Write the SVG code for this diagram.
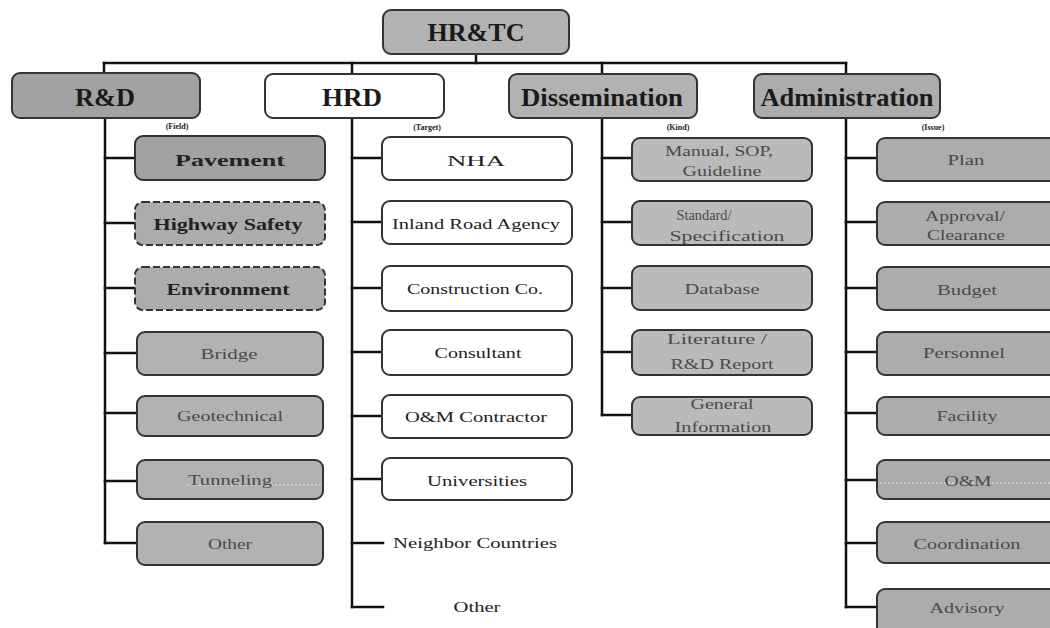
<svg xmlns="http://www.w3.org/2000/svg" width="1050" height="628" viewBox="0 0 1050 628">
<defs>
<style>
.box{stroke:#333;stroke-width:2}
.dash{stroke-dasharray:7 3}
.hdr{font-family:"Liberation Serif",serif;font-weight:bold;font-size:25px;fill:#1a1a1a;text-anchor:middle}
.lbl{font-family:"Liberation Serif",serif;font-size:15px;fill:#4a4a4a;text-anchor:middle}
.blbl{font-family:"Liberation Serif",serif;font-size:17px;font-weight:bold;fill:#222;text-anchor:middle}
.hlbl{font-family:"Liberation Serif",serif;font-size:15px;fill:#222;text-anchor:middle}
.tiny{font-family:"Liberation Serif",serif;font-size:8px;font-weight:bold;fill:#222;text-anchor:middle}
.g1{fill:#a2a2a2}
.g2{fill:#b2b2b2}
.g3{fill:#bababa}
.g4{fill:#acacac}
.w{fill:#ffffff}
.conn line{stroke:#111;stroke-width:2.5;stroke-linecap:square}
.art{stroke:#e6e6e6;stroke-width:1;stroke-dasharray:2 2}
</style>
</defs>
<rect width="1050" height="628" fill="#ffffff"/>

<g id="connectors" class="conn">
<line x1="476" y1="55" x2="476" y2="63"/>
<line x1="104" y1="63" x2="846" y2="63"/>
<line x1="104" y1="63" x2="104" y2="73"/>
<line x1="352" y1="63" x2="352" y2="74"/>
<line x1="602" y1="63" x2="602" y2="74"/>
<line x1="846" y1="63" x2="846" y2="74"/>
<line x1="105" y1="118" x2="105" y2="543"/>
<line x1="105" y1="158" x2="135" y2="158"/>
<line x1="105" y1="223" x2="135" y2="223"/>
<line x1="105" y1="288" x2="135" y2="288"/>
<line x1="105" y1="353" x2="135" y2="353"/>
<line x1="105" y1="413" x2="137" y2="413"/>
<line x1="105" y1="481" x2="137" y2="481"/>
<line x1="105" y1="543" x2="137" y2="543"/>
<line x1="352" y1="118" x2="352" y2="607"/>
<line x1="352" y1="158" x2="382" y2="158"/>
<line x1="352" y1="222" x2="382" y2="222"/>
<line x1="352" y1="288" x2="382" y2="288"/>
<line x1="352" y1="352" x2="382" y2="352"/>
<line x1="352" y1="416" x2="382" y2="416"/>
<line x1="352" y1="479" x2="382" y2="479"/>
<line x1="352" y1="543" x2="383" y2="543"/>
<line x1="352" y1="607" x2="383" y2="607"/>
<line x1="602" y1="118" x2="602" y2="415"/>
<line x1="602" y1="158" x2="632" y2="158"/>
<line x1="602" y1="222" x2="632" y2="222"/>
<line x1="602" y1="288" x2="632" y2="288"/>
<line x1="602" y1="352" x2="632" y2="352"/>
<line x1="602" y1="415" x2="632" y2="415"/>
<line x1="846" y1="118" x2="846" y2="607"/>
<line x1="846" y1="158" x2="877" y2="158"/>
<line x1="846" y1="222" x2="877" y2="222"/>
<line x1="846" y1="288" x2="877" y2="288"/>
<line x1="846" y1="352" x2="877" y2="352"/>
<line x1="846" y1="413" x2="877" y2="413"/>
<line x1="846" y1="480" x2="877" y2="480"/>
<line x1="846" y1="543" x2="877" y2="543"/>
<line x1="846" y1="607" x2="877" y2="607"/>
</g>

<g id="hrtc"><rect class="box g2" x="383" y="10" width="186" height="44" rx="8"/><text class="hdr" x="476" y="41" textLength="97" lengthAdjust="spacingAndGlyphs">HR&amp;TC</text></g>

<g id="rd"><rect class="box g1" x="12" y="73" width="188" height="45" rx="8"/><text class="hdr" x="105" y="106" textLength="60" lengthAdjust="spacingAndGlyphs">R&amp;D</text><text class="tiny" x="177" y="129">(Field)</text></g>
<g id="hrd"><rect class="box w" x="265" y="74" width="179" height="44" rx="8"/><text class="hdr" x="352" y="106" textLength="60" lengthAdjust="spacingAndGlyphs">HRD</text><text class="tiny" x="427" y="130">(Target)</text></g>
<g id="dissemination"><rect class="box g2" x="509" y="74" width="188" height="44" rx="8"/><text class="hdr" x="602" y="106" textLength="162" lengthAdjust="spacingAndGlyphs">Dissemination</text><text class="tiny" x="678" y="130">(Kind)</text></g>
<g id="administration"><rect class="box g4" x="754" y="74" width="186" height="44" rx="8"/><text class="hdr" x="847" y="106" textLength="173" lengthAdjust="spacingAndGlyphs">Administration</text><text class="tiny" x="933" y="130">(Issue)</text></g>

<g id="rd-pavement"><rect class="box g1" x="135" y="136" width="190" height="44" rx="8"/><text class="blbl" x="230" y="166" font-size="21" textLength="110" lengthAdjust="spacingAndGlyphs">Pavement</text></g>
<g id="rd-highway"><rect class="box g4 dash" x="135" y="202" width="190" height="43" rx="8"/><text class="blbl" x="228" y="230" textLength="149" lengthAdjust="spacingAndGlyphs">Highway Safety</text></g>
<g id="rd-environment"><rect class="box g4 dash" x="135" y="267" width="190" height="43" rx="8"/><text class="blbl" x="228" y="295" textLength="123" lengthAdjust="spacingAndGlyphs">Environment</text></g>
<g id="rd-bridge"><rect class="box g2" x="137" y="332" width="186" height="43" rx="8" stroke="#888" stroke-width="1"/><text class="lbl" x="229" y="359" textLength="57" lengthAdjust="spacingAndGlyphs">Bridge</text></g>
<g id="rd-geotechnical"><rect class="box g2" x="137" y="396" width="186" height="40" rx="8" stroke="#888" stroke-width="1"/><text class="lbl" x="230" y="421" textLength="106" lengthAdjust="spacingAndGlyphs">Geotechnical</text></g>
<g id="rd-tunneling"><rect class="box g2" x="137" y="460" width="186" height="39" rx="8" stroke="#888" stroke-width="1"/><line class="art" x1="187" y1="485" x2="323" y2="485"/><text class="lbl" x="230" y="485" textLength="84" lengthAdjust="spacingAndGlyphs">Tunneling</text></g>
<g id="rd-other"><rect class="box g2" x="137" y="522" width="186" height="43" rx="8" stroke="#888" stroke-width="1"/><text class="lbl" x="230" y="549" textLength="44" lengthAdjust="spacingAndGlyphs">Other</text></g>

<g id="hrd-nha"><rect class="box w" x="382" y="137" width="190" height="43" rx="8"/><text class="hlbl" x="476" y="166" font-family="Liberation Sans, sans-serif" font-size="20" textLength="58" lengthAdjust="spacingAndGlyphs">NHA</text></g>
<g id="hrd-inland"><rect class="box w" x="382" y="201" width="190" height="43" rx="8"/><text class="hlbl" x="476" y="229" textLength="168" lengthAdjust="spacingAndGlyphs">Inland Road Agency</text></g>
<g id="hrd-construction"><rect class="box w" x="382" y="266" width="190" height="45" rx="8"/><text class="hlbl" x="475" y="294" textLength="136" lengthAdjust="spacingAndGlyphs">Construction Co.</text></g>
<g id="hrd-consultant"><rect class="box w" x="382" y="330" width="190" height="45" rx="8"/><text class="hlbl" x="478" y="358" textLength="87" lengthAdjust="spacingAndGlyphs">Consultant</text></g>
<g id="hrd-om"><rect class="box w" x="382" y="395" width="190" height="43" rx="8"/><text class="hlbl" x="476" y="422" textLength="142" lengthAdjust="spacingAndGlyphs">O&amp;M Contractor</text></g>
<g id="hrd-universities"><rect class="box w" x="382" y="458" width="190" height="42" rx="8"/><text class="hlbl" x="477" y="486" textLength="100" lengthAdjust="spacingAndGlyphs">Universities</text></g>
<g id="hrd-neighbor"><text class="hlbl" x="475" y="548" textLength="164" lengthAdjust="spacingAndGlyphs">Neighbor Countries</text></g>
<g id="hrd-other"><text class="hlbl" x="477" y="612" textLength="47" lengthAdjust="spacingAndGlyphs">Other</text></g>

<g id="dis-manual"><rect class="box g3" x="632" y="138" width="180" height="43" rx="8"/><text class="lbl" x="719" y="156" textLength="108" lengthAdjust="spacingAndGlyphs">Manual, SOP,</text><text class="lbl" x="722" y="176" textLength="79" lengthAdjust="spacingAndGlyphs">Guideline</text></g>
<g id="dis-standard"><rect class="box g3" x="632" y="201" width="180" height="44" rx="8"/><text class="lbl" x="704" y="220" textLength="55" lengthAdjust="spacingAndGlyphs">Standard/</text><text class="lbl" x="727" y="241" textLength="115" lengthAdjust="spacingAndGlyphs">Specification</text></g>
<g id="dis-database"><rect class="box g3" x="632" y="266" width="180" height="44" rx="8"/><text class="lbl" x="722" y="294" textLength="75" lengthAdjust="spacingAndGlyphs">Database</text></g>
<g id="dis-literature"><rect class="box g3" x="632" y="330" width="180" height="45" rx="8"/><text class="lbl" x="717" y="344" textLength="100" lengthAdjust="spacingAndGlyphs">Literature /</text><text class="lbl" x="722" y="369" textLength="103" lengthAdjust="spacingAndGlyphs">R&amp;D Report</text></g>
<g id="dis-general"><rect class="box g3" x="632" y="397" width="180" height="38" rx="8" stroke="#999" stroke-width="1"/><text class="lbl" x="722" y="409" textLength="63" lengthAdjust="spacingAndGlyphs">General</text><text class="lbl" x="723" y="432" textLength="97" lengthAdjust="spacingAndGlyphs">Information</text></g>

<g id="adm-plan"><rect class="box g4" x="877" y="138" width="180" height="43" rx="8"/><text class="lbl" x="966" y="165" textLength="37" lengthAdjust="spacingAndGlyphs">Plan</text></g>
<g id="adm-approval"><rect class="box g4" x="877" y="202" width="180" height="43" rx="8" stroke="#888" stroke-width="1"/><text class="lbl" x="965" y="221" textLength="80" lengthAdjust="spacingAndGlyphs">Approval/</text><text class="lbl" x="966" y="240" textLength="78" lengthAdjust="spacingAndGlyphs">Clearance</text></g>
<g id="adm-budget"><rect class="box g4" x="877" y="267" width="180" height="43" rx="8" stroke="#888" stroke-width="1"/><text class="lbl" x="967" y="295" textLength="60" lengthAdjust="spacingAndGlyphs">Budget</text></g>
<g id="adm-personnel"><rect class="box g4" x="877" y="332" width="180" height="43" rx="8" stroke="#888" stroke-width="1"/><text class="lbl" x="964" y="358" textLength="82" lengthAdjust="spacingAndGlyphs">Personnel</text></g>
<g id="adm-facility"><rect class="box g4" x="877" y="397" width="180" height="38" rx="8" stroke="#888" stroke-width="1"/><text class="lbl" x="967" y="421" textLength="61" lengthAdjust="spacingAndGlyphs">Facility</text></g>
<g id="adm-om"><rect class="box g4" x="877" y="460" width="180" height="39" rx="8" stroke="#888" stroke-width="1"/><line class="art" x1="880" y1="483" x2="1050" y2="483"/><text class="lbl" x="968" y="486" textLength="47" lengthAdjust="spacingAndGlyphs">O&amp;M</text></g>
<g id="adm-coordination"><rect class="box g4" x="877" y="522" width="180" height="41" rx="8" stroke="#888" stroke-width="1"/><text class="lbl" x="967" y="549" textLength="107" lengthAdjust="spacingAndGlyphs">Coordination</text></g>
<g id="adm-advisory"><rect class="box g4" x="877" y="589" width="180" height="50" rx="8" stroke="#888" stroke-width="1"/><text class="lbl" x="967" y="613" textLength="75" lengthAdjust="spacingAndGlyphs">Advisory</text></g>
</svg>
